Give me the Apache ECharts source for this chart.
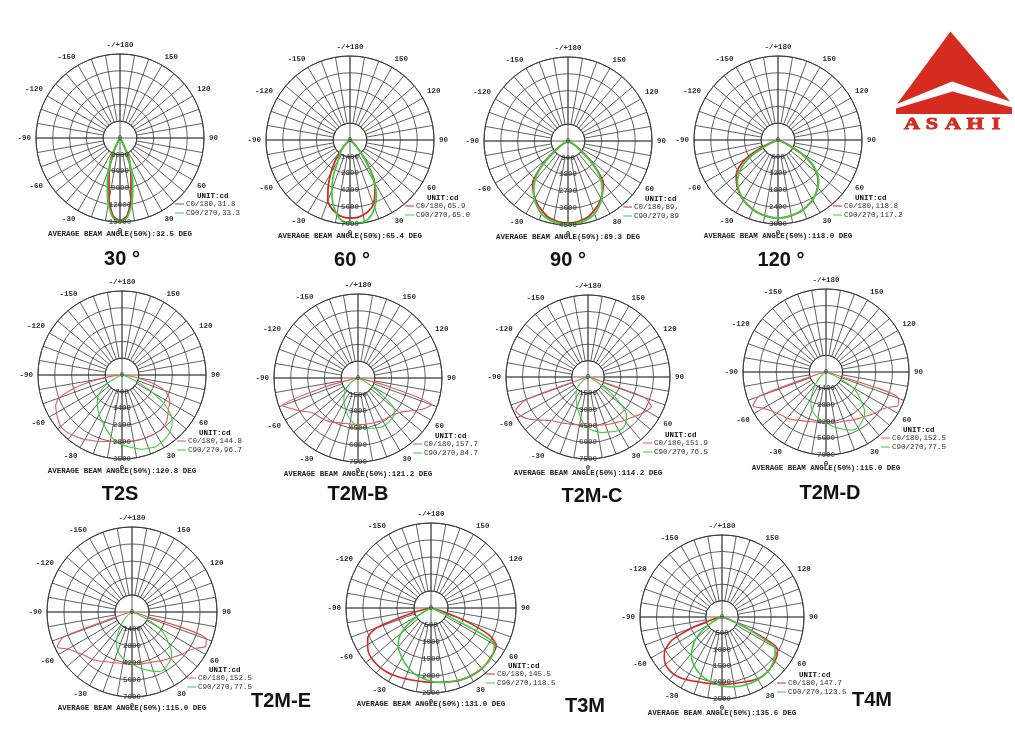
<!DOCTYPE html>
<html><head><meta charset="utf-8">
<script src="https://cdn.jsdelivr.net/npm/echarts/dist/echarts.min.js"></script>
<style>html,body{margin:0;padding:0;background:#fff}#c{width:1015px;height:740px}</style>
</head><body><div id="c"></div>
<script>
// ---------- DATA ----------
const gamma = [-90,-85,-80,-75,-70,-65,-60,-55,-50,-45,-40,-35,-30,-25,-20,-15,-10,-5,0,5,10,15,20,25,30,35,40,45,50,55,60,65,70,75,80,85,90];

const chartNames = ['30 °','60 °','90 °','120 °','T2S','T2M-B','T2M-C','T2M-D','T2M-E','T3M','T4M'];

const ticks30 = [3000,6000,9000,12000,15000];
const ticks60 = [1400,2800,4200,5600,7000];
const ticks90 = [900,1800,2700,3600,4500];
const ticks120 = [600,1200,1800,2400,3000];
const ticksT2S = [700,1400,2100,2800,3500];
const ticksT2MBC = [1500,3000,4500,6000,7500];
const ticksT2MDE = [1400,2800,4200,5600,7000];
const ticksT34 = [500,1000,1500,2000,2500];

const c0Labels = ['31.8','65.9','89,','118.8','144.8','157.7','151.9','152.5','152.5','145.5','147.7'];
const c90Labels = ['33.3','65.0','89','117.2','96.7','84.7','76.5','77.5','77.5','118.5','123.5'];
const avgBeam = ['32.5','65.4','89.3','118.0','120.8','121.2','114.2','115.0','115.0','131.0','135.6'];

const beam30Red = [0,0,0,0,0,0,0,0,0,0,0,0,600,3500,5300,7600,11200,14000,14800,14000,11200,7600,5300,3500,600,0,0,0,0,0,0,0,0,0,0,0,0];
const beam30Green = [0,0,0,0,0,0,0,0,0,0,0,0,500,2800,5500,8800,12000,14300,14900,14300,12000,8800,5500,2800,500,0,0,0,0,0,0,0,0,0,0,0,0];
const beam60Red = [0,0,0,0,0,0,0,100,300,700,1300,2200,3200,4300,5400,5900,6250,6450,6500,6500,6350,6100,5700,4900,4100,2800,1500,700,300,100,0,0,0,0,0,0,0];
const beam60Green = [0,0,0,0,0,0,0,100,300,600,1100,1500,2000,3300,4400,5500,6300,6800,6950,6950,6900,6600,6000,5200,4000,2700,1500,700,300,100,0,0,0,0,0,0,0];
const beam90Red = [0,0,0,0,0,100,300,700,1400,2200,2950,3250,3550,3800,4000,4200,4300,4380,4400,4380,4300,4200,4000,3800,3550,3250,2950,2200,1400,700,300,100,0,0,0,0,0];
const beam90Green = [0,0,0,0,0,80,250,600,1300,2150,2750,3200,3600,3900,4150,4300,4400,4450,4450,4450,4400,4300,4150,3900,3600,3200,2750,2150,1300,600,250,80,0,0,0,0,0];
const beam120Red = [0,0,0,0,150,700,1300,1700,1950,2100,2250,2370,2480,2560,2640,2700,2740,2770,2780,2770,2740,2700,2640,2560,2470,2350,2200,2030,1780,1450,950,350,80,0,0,0,0];
const beam120Green = [0,0,0,0,100,400,1000,1500,1800,2050,2220,2350,2470,2560,2640,2700,2740,2770,2780,2770,2740,2700,2640,2560,2470,2350,2220,2050,1800,1500,1000,400,100,0,0,0,0];
const t2sRed = [0,300,1000,2000,2800,3050,3150,3250,3330,3320,3250,3180,3100,3000,2950,2870,2800,2770,2760,2770,2780,2790,2790,2800,2800,2800,2750,2650,2500,2380,2300,2150,1900,1300,600,150,0];
const t2sGreen = [0,0,0,0,100,300,700,1000,1250,1450,1600,1750,1900,2050,2200,2400,2600,2800,2900,3000,3100,3200,3250,3300,3250,3200,3100,2950,2700,2200,1500,800,300,100,0,0,0];
const t2mbRed = [0,0,300,3000,7200,6500,5900,5300,5000,4900,4800,4700,4550,4400,4300,4200,4170,4150,4150,4170,4190,4200,4250,4300,4350,4400,4450,4600,4800,5200,5800,6500,7000,2500,200,0,0];
const t2mbGreen = [0,0,0,0,0,200,500,900,1300,1650,1900,2200,2500,2800,3100,3500,3800,4100,4300,4450,4550,4650,4750,4850,4850,4800,4700,4600,4200,2500,1200,500,100,0,0,0,0];
const t2mcRed = [0,0,0,500,6000,7300,7100,6700,6100,5600,5200,5000,4850,4700,4600,4500,4450,4430,4420,4440,4470,4550,4650,4750,4850,5000,5200,5350,5600,5900,6200,6400,5500,400,0,0,0];
const t2mcGreen = [0,0,0,0,0,0,200,500,900,1300,1650,1900,2200,2500,2900,3300,3800,4300,4700,4900,5100,5250,5350,5500,5650,5650,5400,5000,4000,2500,1100,400,100,0,0,0,0];
const t2mdRed = [0,0,0,800,6000,6800,6100,5700,5400,5200,5100,4900,4700,4550,4450,4350,4300,4300,4300,4320,4350,4370,4420,4500,4650,4800,4930,5150,5400,5600,6000,6700,6500,700,0,0,0];
const t2mdGreen = [0,0,0,0,0,0,100,300,600,1000,1400,1900,2500,3000,3400,3700,3950,4100,4250,4500,4750,4950,5200,5400,5400,5200,5000,4600,3900,3300,2600,1200,300,0,0,0,0];
const t2meRed = [0,0,0,800,6000,6800,6100,5700,5400,5200,5100,4900,4700,4550,4450,4350,4300,4300,4300,4320,4350,4370,4420,4500,4650,4800,4930,5150,5400,5600,6000,6700,6500,700,0,0,0];
const t2meGreen = [0,0,0,0,0,0,100,300,600,1000,1400,1900,2500,3000,3400,3700,3950,4100,4250,4500,4750,4950,5200,5400,5400,5200,5000,4600,3900,3300,2600,1200,300,0,0,0,0];
const t3mRed = [0,0,100,600,1700,2050,2150,2250,2290,2300,2300,2290,2270,2240,2210,2190,2180,2180,2180,2190,2210,2240,2280,2300,2320,2330,2330,2310,2280,2260,2220,1900,1000,300,50,0,0];
const t3mGreen = [0,0,0,0,0,100,400,800,1150,1350,1500,1600,1700,1800,1900,1980,2050,2100,2150,2200,2220,2250,2270,2290,2300,2310,2320,2320,2300,2250,2150,600,100,0,0,0,0];
const t4mRed = [0,0,50,300,1000,1700,2000,2150,2250,2280,2280,2250,2200,2150,2100,2080,2060,2060,2060,2060,2060,2070,2100,2140,2170,2180,2170,2140,2100,2050,1950,1000,300,50,0,0,0];
const t4mGreen = [0,0,0,0,50,200,450,750,1050,1250,1450,1600,1700,1800,1880,1950,2000,2050,2100,2130,2160,2180,2190,2200,2200,2190,2170,2130,2060,1980,1850,900,250,50,0,0,0];

const chartTicks = [ticks30,ticks60,ticks90,ticks120,ticksT2S,ticksT2MBC,ticksT2MBC,ticksT2MDE,ticksT2MDE,ticksT34,ticksT34];
const chartRed = [beam30Red,beam60Red,beam90Red,beam120Red,t2sRed,t2mbRed,t2mcRed,t2mdRed,t2meRed,t3mRed,t4mRed];
const chartGreen = [beam30Green,beam60Green,beam90Green,beam120Green,t2sGreen,t2mbGreen,t2mcGreen,t2mdGreen,t2meGreen,t3mGreen,t4mGreen];

// ---------- LAYOUT (positions / styles) ----------
const layout = [
  {x:120,y:138,r:84,tx:122,ty:259,lw:1.8,red:'#d42a2a'},
  {x:350,y:140,r:84,tx:352,ty:260,lw:1.8,red:'#d42a2a'},
  {x:568,y:141,r:84,tx:568,ty:260,lw:1.8,red:'#d42a2a'},
  {x:778,y:140,r:84,tx:781,ty:260,lw:1.8,red:'#d42a2a'},
  {x:122,y:375,r:84,tx:120,ty:494,lw:1.1,red:'#e05a5a'},
  {x:358,y:378,r:84,tx:358,ty:494,lw:1.1,red:'#e05a5a'},
  {x:588,y:377,r:82,tx:592,ty:496,lw:1.1,red:'#e05a5a'},
  {x:826,y:372,r:83,tx:830,ty:493,lw:1.1,red:'#e05a5a'},
  {x:132,y:612,r:85,tx:281,ty:701,lw:1.1,red:'#e05a5a'},
  {x:431,y:608,r:85,tx:585,ty:706,lw:1.6,red:'#d42a2a'},
  {x:722,y:617,r:82,tx:872,ty:700,lw:1.6,red:'#d42a2a'}
];
const GREEN = '#3ccf3c';
const GRID = '#3a3a3a';
const MONO = '"Liberation Mono","DejaVu Sans Mono",monospace';
const SMALL = 7.5;

const polar = [], angleAxis = [], radiusAxis = [], series = [], graphic = [];

function trimmed(vals) {
  const pts = [];
  for (let k = 0; k < gamma.length; k++) {
    const prev = k > 0 ? vals[k-1] : 0, next = k < gamma.length-1 ? vals[k+1] : 0;
    if (vals[k] > 0 || prev > 0 || next > 0) pts.push([vals[k], gamma[k]]);
  }
  return pts;
}

chartNames.forEach((name, i) => {
  const L = layout[i], t = chartTicks[i];
  const a = i*2, b = i*2+1;
  polar.push({center:[L.x, L.y], radius:[L.r/5, L.r]});
  polar.push({center:[L.x, L.y], radius:[0, L.r]});
  angleAxis.push({
    polarIndex:a, type:'value', min:-180, max:180, interval:10, startAngle:90, clockwise:false,
    axisLine:{show:true, lineStyle:{color:GRID, width:1}}, axisTick:{show:false},
    axisLabel:{show:true, margin:5, fontSize:SMALL, fontWeight:'bold', fontFamily:MONO, color:'#333',
      formatter: v => v === -180 ? '-/+180' : (v === 180 ? '' : (v % 30 === 0 ? String(v) : ''))},
    splitLine:{show:true, lineStyle:{color:GRID, width:0.8}}
  });
  radiusAxis.push({polarIndex:a, type:'value', min:0, max:1, show:false});
  angleAxis.push({
    polarIndex:b, type:'value', min:-180, max:180, interval:90, startAngle:90, clockwise:false,
    axisLine:{show:false}, axisTick:{show:false}, axisLabel:{show:false},
    splitLine:{show:true, lineStyle:{color:GRID, width:0.8}}
  });
  radiusAxis.push({
    polarIndex:b, type:'value', min:0, max:t[4], interval:t[0],
    axisLine:{show:false}, axisTick:{show:false}, axisLabel:{show:false},
    splitLine:{show:true, lineStyle:{color:GRID, width:0.8}}
  });
  series.push({type:'line', coordinateSystem:'polar', polarIndex:b, data:trimmed(chartRed[i]),
    smooth:0.2, symbol:'none', lineStyle:{color:L.red, width:L.lw}, z:3, silent:true});
  series.push({type:'line', coordinateSystem:'polar', polarIndex:b, data:trimmed(chartGreen[i]),
    smooth:0.2, symbol:'none', lineStyle:{color:GREEN, width:L.lw}, z:3, silent:true});
  series.push({type:'scatter', coordinateSystem:'polar', polarIndex:b, silent:true, z:5,
    data:[0].concat(t).map(v => [v, 0]), symbolSize:1, itemStyle:{color:'rgba(0,0,0,0)'},
    label:{show:true, position:'inside', formatter:p => String(p.value[0]), fontSize:SMALL, fontWeight:'bold', fontFamily:MONO, color:'#333'}});

  // legend + notes
  graphic.push({type:'text', x:L.x+77, y:L.y+58, style:{text:'UNIT:cd', font:'bold '+SMALL+'px '+MONO, fill:'#111', align:'left', verticalAlign:'middle', textAlign:'left', textVerticalAlign:'middle'}});
  graphic.push({type:'line', shape:{x1:L.x+55, y1:L.y+66, x2:L.x+64, y2:L.y+66}, style:{stroke:L.red, lineWidth:1}});
  graphic.push({type:'text', x:L.x+66, y:L.y+66, style:{text:'C0/180,'+c0Labels[i], font:SMALL+'px '+MONO, fill:'#333', align:'left', verticalAlign:'middle', textAlign:'left', textVerticalAlign:'middle'}});
  graphic.push({type:'line', shape:{x1:L.x+55, y1:L.y+75, x2:L.x+64, y2:L.y+75}, style:{stroke:GREEN, lineWidth:1}});
  graphic.push({type:'text', x:L.x+66, y:L.y+75, style:{text:'C90/270,'+c90Labels[i], font:SMALL+'px '+MONO, fill:'#333', align:'left', verticalAlign:'middle', textAlign:'left', textVerticalAlign:'middle'}});
  graphic.push({type:'text', x:L.x, y:L.y+96, style:{text:'AVERAGE BEAM ANGLE(50%):'+avgBeam[i]+' DEG', font:'bold '+SMALL+'px '+MONO, fill:'#222', align:'center', verticalAlign:'middle', textAlign:'center', textVerticalAlign:'middle'}});
  graphic.push({type:'text', x:L.tx, y:L.ty, style:{text:name, font:'bold 20px "Liberation Sans",Arial,sans-serif', fill:'#111', align:'center', verticalAlign:'middle', textAlign:'center', textVerticalAlign:'middle'}});
});

// logo
const LOGO_RED = '#d62b20';
graphic.push({type:'polygon', shape:{points:[[950.5,31.5],[1010,101.5],[952,81.5],[897,104]]}, style:{fill:LOGO_RED}});
graphic.push({type:'polygon', shape:{points:[[896,108.5],[952.5,91.5],[1012,107.5],[1012,114],[896,114]]}, style:{fill:LOGO_RED}});
const logoLetters = ['A','S','A','H','I'];
const logoX = [912,932,953,975,996];
logoLetters.forEach((ch, k) => {
  graphic.push({type:'text', x:logoX[k], y:125, scaleX:1.3, style:{text:ch, fontSize:17, fontWeight:'bold', fontFamily:'Liberation Serif', fill:LOGO_RED, stroke:LOGO_RED, lineWidth:0.9, align:'center', verticalAlign:'middle', textAlign:'center', textVerticalAlign:'middle'}});
});

const chart = echarts.init(document.getElementById('c'));
chart.setOption({
  backgroundColor:'#fff',
  animation:false,
  polar, angleAxis, radiusAxis, series, graphic
});
</script>
</body></html>
